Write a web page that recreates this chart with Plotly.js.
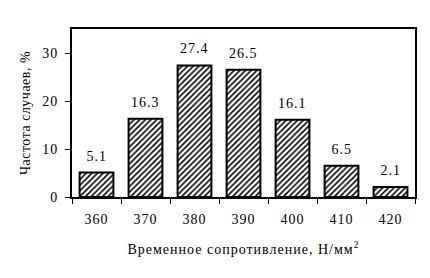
<!DOCTYPE html>
<html>
<head>
<meta charset="utf-8">
<script src="https://cdn.plot.ly/plotly-3.0.1.min.js"></script>
<style>
  html, body { margin: 0; padding: 0; background: #fff; }
  #chart { width: 430px; height: 278px; }
  #chart svg text { letter-spacing: 1px; }
  #chart svg .g-ytitle text { letter-spacing: 0.5px; }
</style>
</head>
<body>
<div id="chart"></div>
<script>
// Distribution of tensile strength values
const categories = ['360', '370', '380', '390', '400', '410', '420'];
const frequency = [5.1, 16.3, 27.4, 26.5, 16.1, 6.5, 2.1];
const yTicks = [0, 10, 20, 30];

const serif = 'Times New Roman';

const bars = {
  type: 'bar',
  x: categories,
  y: frequency,
  marker: {
    color: '#ffffff',
    line: { color: '#000000', width: 2 },
    pattern: { shape: '/', fgcolor: '#000000', bgcolor: '#ffffff', size: 4, solidity: 0.38 }
  },
  hoverinfo: 'none'
};

// Value labels above each bar (x given as category index)
const labels = categories.map((c, i) => ({
  x: i,
  y: frequency[i],
  text: frequency[i].toFixed(1),
  showarrow: false,
  yanchor: 'bottom',
  yshift: 7,
  font: { family: serif, size: 14, color: '#000' }
}));

const layout = {
  width: 430,
  height: 278,
  margin: { l: 72, r: 15, t: 29, b: 81 },
  paper_bgcolor: '#ffffff',
  plot_bgcolor: '#ffffff',
  bargap: 0.31,
  showlegend: false,
  font: { family: serif, size: 14, color: '#000' },
  xaxis: {
    type: 'category',
    range: [-0.5, categories.length - 0.5],
    showline: true,
    linecolor: '#000',
    linewidth: 2,
    mirror: true,
    ticks: 'outside',
    tickson: 'boundaries',
    ticklen: 5,
    tickwidth: 1,
    tickcolor: '#000',
    ticklabelstandoff: 8,
    showgrid: false,
    zeroline: false,
    tickfont: { family: serif, size: 14 },
    title: { text: 'Временное сопротивление, Н/мм<sup>2</sup>', font: { family: serif, size: 14 }, standoff: 18 }
  },
  yaxis: {
    range: [0, 35],
    tickvals: yTicks,
    showline: true,
    linecolor: '#000',
    linewidth: 2,
    mirror: true,
    ticks: 'outside',
    ticklen: 5,
    tickwidth: 1,
    tickcolor: '#000',
    ticklabelstandoff: 4,
    showgrid: false,
    zeroline: false,
    tickfont: { family: serif, size: 14 },
    title: { text: 'Частота случаев, %', font: { family: serif, size: 14 }, standoff: 10 }
  },
  annotations: labels
};

Plotly.newPlot('chart', [bars], layout, { staticPlot: true, displayModeBar: false });
</script>
</body>
</html>
